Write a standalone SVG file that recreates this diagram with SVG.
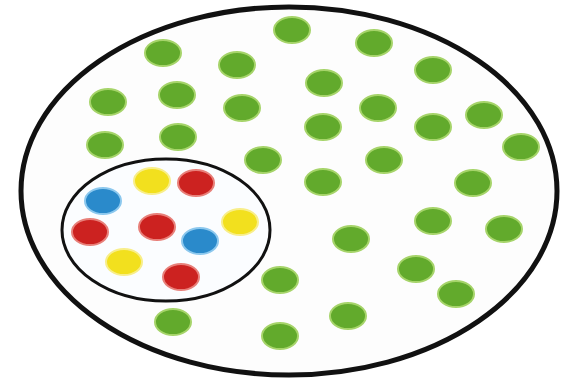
<svg xmlns="http://www.w3.org/2000/svg" width="563" height="388" viewBox="0 0 563 388">
<style>
.g{fill:#62aa2c;stroke:#a6d46a;stroke-width:2}
.r{fill:#cc2220;stroke:#e8807a;stroke-width:2}
.b{fill:#2a8acb;stroke:#8cc8ee;stroke-width:2}
.y{fill:#f2e01e;stroke:#f8ee8a;stroke-width:2}
</style>
<rect width="563" height="388" fill="#ffffff"/>
<ellipse cx="289" cy="191" rx="268" ry="184" fill="#fdfdfd" stroke="#111" stroke-width="5"/>
<g id="green">
<ellipse class="g" cx="163" cy="53" rx="18" ry="13"/>
<ellipse class="g" cx="237" cy="65" rx="18" ry="13"/>
<ellipse class="g" cx="108" cy="102" rx="18" ry="13"/>
<ellipse class="g" cx="177" cy="95" rx="18" ry="13"/>
<ellipse class="g" cx="242" cy="108" rx="18" ry="13"/>
<ellipse class="g" cx="105" cy="145" rx="18" ry="13"/>
<ellipse class="g" cx="178" cy="137" rx="18" ry="13"/>
<ellipse class="g" cx="263" cy="160" rx="18" ry="13"/>
<ellipse class="g" cx="292" cy="30" rx="18" ry="13"/>
<ellipse class="g" cx="374" cy="43" rx="18" ry="13"/>
<ellipse class="g" cx="433" cy="70" rx="18" ry="13"/>
<ellipse class="g" cx="324" cy="83" rx="18" ry="13"/>
<ellipse class="g" cx="378" cy="108" rx="18" ry="13"/>
<ellipse class="g" cx="484" cy="115" rx="18" ry="13"/>
<ellipse class="g" cx="323" cy="127" rx="18" ry="13"/>
<ellipse class="g" cx="433" cy="127" rx="18" ry="13"/>
<ellipse class="g" cx="521" cy="147" rx="18" ry="13"/>
<ellipse class="g" cx="384" cy="160" rx="18" ry="13"/>
<ellipse class="g" cx="323" cy="182" rx="18" ry="13"/>
<ellipse class="g" cx="473" cy="183" rx="18" ry="13"/>
<ellipse class="g" cx="433" cy="221" rx="18" ry="13"/>
<ellipse class="g" cx="504" cy="229" rx="18" ry="13"/>
<ellipse class="g" cx="351" cy="239" rx="18" ry="13"/>
<ellipse class="g" cx="416" cy="269" rx="18" ry="13"/>
<ellipse class="g" cx="456" cy="294" rx="18" ry="13"/>
<ellipse class="g" cx="280" cy="280" rx="18" ry="13"/>
<ellipse class="g" cx="348" cy="316" rx="18" ry="13"/>
<ellipse class="g" cx="173" cy="322" rx="18" ry="13"/>
<ellipse class="g" cx="280" cy="336" rx="18" ry="13"/>
</g>
<g id="subset">
<ellipse cx="166" cy="230" rx="104" ry="71" fill="#fbfdff" stroke="#111" stroke-width="3"/>
<ellipse class="y" cx="152" cy="181" rx="18" ry="13"/>
<ellipse class="r" cx="196" cy="183" rx="18" ry="13"/>
<ellipse class="b" cx="103" cy="201" rx="18" ry="13"/>
<ellipse class="r" cx="90" cy="232" rx="18" ry="13"/>
<ellipse class="r" cx="157" cy="227" rx="18" ry="13"/>
<ellipse class="y" cx="240" cy="222" rx="18" ry="13"/>
<ellipse class="b" cx="200" cy="241" rx="18" ry="13"/>
<ellipse class="y" cx="124" cy="262" rx="18" ry="13"/>
<ellipse class="r" cx="181" cy="277" rx="18" ry="13"/>
</g>
</svg>
